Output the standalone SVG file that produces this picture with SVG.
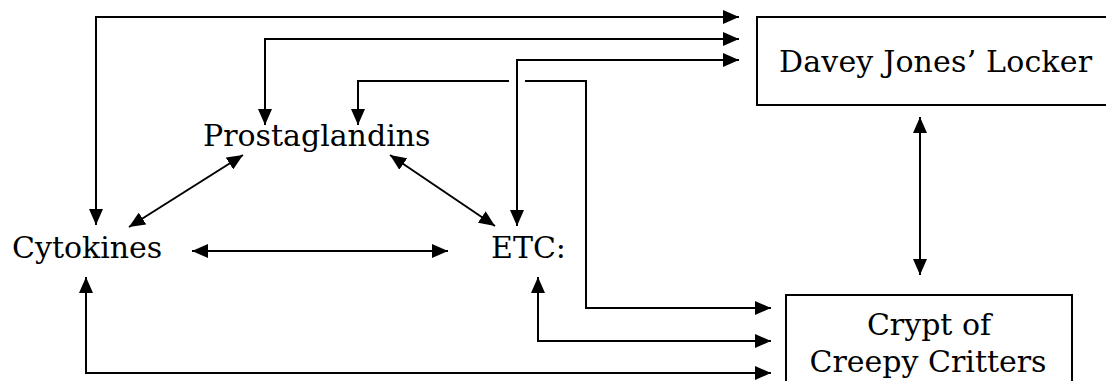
<svg xmlns="http://www.w3.org/2000/svg" width="1106" height="381" viewBox="0 0 1106 381">
<style>
.lbl{font-family:"DejaVu Serif","Liberation Serif",serif;font-size:30px;fill:#000}
.box{fill:#fff;stroke:#000;stroke-width:2}
.c{fill:none;stroke:#000;stroke-width:2}
</style>
<defs>
<marker id="ah" markerUnits="userSpaceOnUse" markerWidth="16" markerHeight="14" refX="16" refY="7" orient="auto-start-reverse" viewBox="0 0 16 14">
<path d="M0,0 L16,7 L0,14 z" fill="#000"/>
</marker>
</defs>
<rect width="1106" height="381" fill="#fff"/>
<g id="connectors">
<path class="c" d="M96,225 V17 H739" marker-start="url(#ah)" marker-end="url(#ah)"/>
<path class="c" d="M265,125 V39 H739" marker-start="url(#ah)" marker-end="url(#ah)"/>
<path class="c" d="M517,226 V60 H739" marker-start="url(#ah)" marker-end="url(#ah)"/>
<path class="c" d="M358,125 V81 H509 M525,81 H586 V308 H771" marker-start="url(#ah)" marker-end="url(#ah)"/>
<path class="c" d="M538,277 V341 H771" marker-start="url(#ah)" marker-end="url(#ah)"/>
<path class="c" d="M86,277 V373 H771" marker-start="url(#ah)" marker-end="url(#ah)"/>
<path class="c" d="M192,251 H448" marker-start="url(#ah)" marker-end="url(#ah)"/>
<path class="c" d="M129,227 L243,155" marker-start="url(#ah)" marker-end="url(#ah)"/>
<path class="c" d="M390,155 L495,226" marker-start="url(#ah)" marker-end="url(#ah)"/>
<path class="c" d="M920,117 V275" marker-start="url(#ah)" marker-end="url(#ah)"/>
</g>
<g id="davey">
<rect class="box" x="757" y="17" width="360" height="88"/>
<text class="lbl" x="779" y="72" textLength="313">Davey Jones’ Locker</text>
</g>
<g id="crypt">
<rect class="box" x="786" y="295" width="286" height="100"/>
<text class="lbl" x="929" y="335" text-anchor="middle">Crypt of</text>
<text class="lbl" x="928" y="372" text-anchor="middle">Creepy Critters</text>
</g>
<g id="prostaglandins">
<text class="lbl" x="203" y="146">Prostaglandins</text>
</g>
<g id="cytokines">
<text class="lbl" x="12" y="258">Cytokines</text>
</g>
<g id="etc">
<text class="lbl" x="491" y="258">ETC:</text>
</g>
</svg>
